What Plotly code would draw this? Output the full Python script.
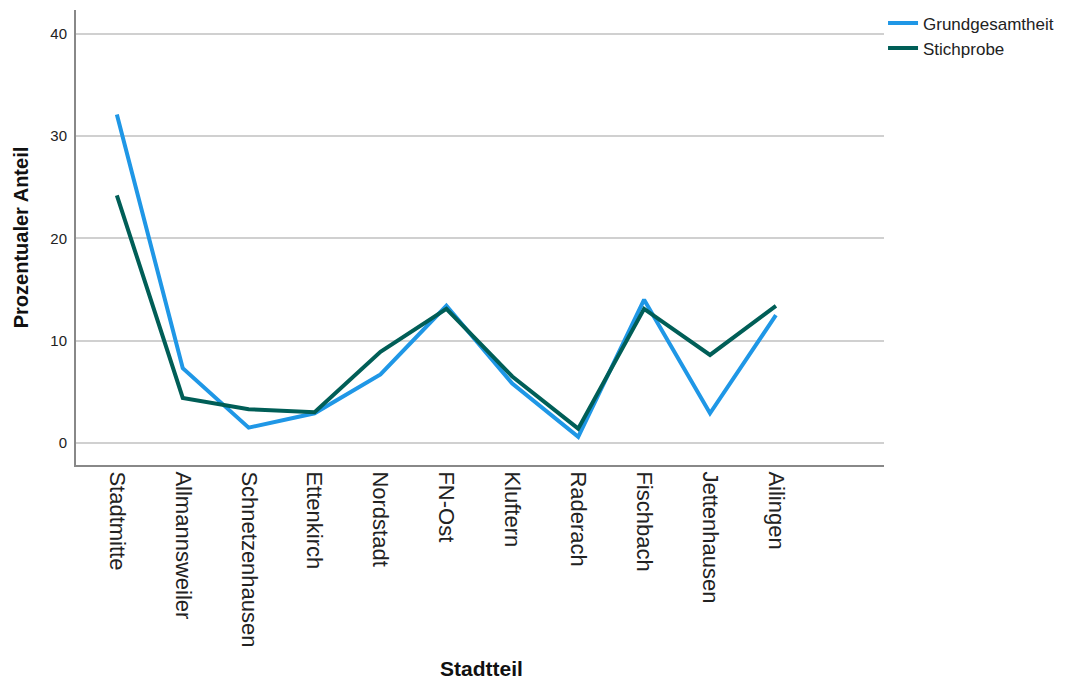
import plotly.graph_objects as go

stadtteile = ["Stadtmitte", "Allmannsweiler", "Schnetzenhausen", "Ettenkirch", "Nordstadt",
              "FN-Ost", "Kluftern", "Raderach", "Fischbach", "Jettenhausen", "Ailingen"]
grundgesamtheit = [32.1, 7.3, 1.5, 2.9, 6.7, 13.4, 5.8, 0.6, 14.0, 2.9, 12.5]
stichprobe = [24.2, 4.4, 3.3, 3.0, 8.9, 13.1, 6.5, 1.4, 13.1, 8.6, 13.4]
y_ticks = [0, 10, 20, 30, 40]

fig = go.Figure()
fig.add_trace(go.Scatter(x=stadtteile, y=grundgesamtheit, mode="lines", name="Grundgesamtheit",
                         line=dict(color="#1f97e6", width=4)))
fig.add_trace(go.Scatter(x=stadtteile, y=stichprobe, mode="lines", name="Stichprobe",
                         line=dict(color="#005e57", width=4)))

fig.update_layout(
    width=1058, height=671,
    margin=dict(l=68, r=182, t=2, b=214, autoexpand=False),
    paper_bgcolor="white", plot_bgcolor="white",
    font=dict(family="Liberation Sans, Arial, sans-serif", color="#222222"),
    showlegend=True,
    legend=dict(x=0.9988, y=1.01, xanchor="left", yanchor="top", font=dict(size=17),
                bgcolor="rgba(0,0,0,0)", tracegroupgap=0, itemwidth=30),
    xaxis=dict(
        type="category", range=[-0.62, 11.64], tickangle=90,
        tickfont=dict(size=22, color="#222222"),
        showgrid=False, showline=True, linecolor="#888888", linewidth=2,
        ticks="", zeroline=False,
    ),
    yaxis=dict(
        range=[-2.15, 42.3], tickvals=y_ticks,
        tickfont=dict(size=15, color="#222222"),
        showgrid=True, gridcolor="#d0d0d0", gridwidth=2,
        showline=True, linecolor="#888888", linewidth=2,
        ticks="", zeroline=False, ticklabelstandoff=4,
        title=dict(text="<b>Prozentualer Anteil</b>", font=dict(size=20, color="#111111"), standoff=16),
    ),
    annotations=[dict(text="<b>Stadtteil</b>", xref="paper", yref="paper", x=0.502, y=-0.448,
                      xanchor="center", yanchor="middle", showarrow=False,
                      font=dict(size=21, color="#111111"))],
)

fig.write_html("out.html")
